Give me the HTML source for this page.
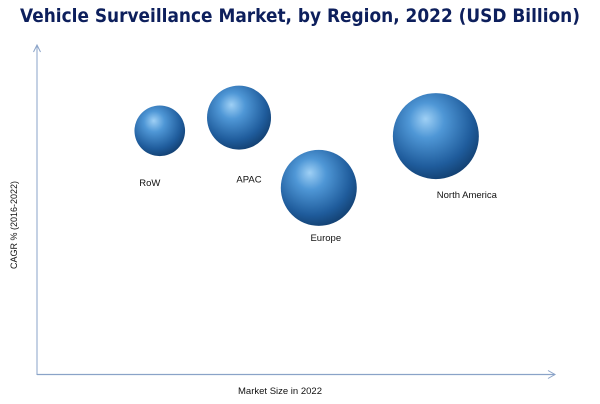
<!DOCTYPE html>
<html><head><meta charset="utf-8"><style>
html,body{margin:0;padding:0;background:#fff;}
svg{display:block;font-family:"Liberation Sans",Arial,sans-serif;}
</style></head><body>
<svg id="chart" width="600" height="404" viewBox="0 0 600 404">
<defs>
<radialGradient id="ball" cx="0.42" cy="0.36" r="0.68" fx="0.38" fy="0.3">
<stop offset="0" stop-color="#9fd0f5"/>
<stop offset="0.3" stop-color="#4f97d6"/>
<stop offset="0.75" stop-color="#1f5c9c"/>
<stop offset="1" stop-color="#123e6e"/>
</radialGradient>
</defs>
<text x="20" y="22" textLength="560" lengthAdjust="spacingAndGlyphs" font-size="19" font-weight="bold" fill="#0d1f5c" font-family="'DejaVu Sans',sans-serif">Vehicle Surveillance Market, by Region, 2022 (USD Billion)</text>
<g>
<line x1="37" y1="375" x2="37" y2="46" stroke="#8aa3c8" stroke-width="1"/>
<path d="M33.5 52 L37 45 L40.5 52" fill="none" stroke="#8aa3c8"/>
</g>
<g>
<line x1="37" y1="374.5" x2="555" y2="374.5" stroke="#8aa3c8" stroke-width="1.2"/>
<path d="M548 370.5 L555 374.5 L548 378.5" fill="none" stroke="#8aa3c8"/>
</g>
<text x="0" y="0" transform="translate(17,225) rotate(-90)" text-anchor="middle" font-size="9" fill="#111">CAGR % (2016-2022)</text>
<text x="280" y="394" text-anchor="middle" font-size="9.5" fill="#111">Market Size in 2022</text>
<g id="bubbles"></g>
</svg>
<script>
const regions = ["RoW", "APAC", "Europe", "North America"];
const marketSize = [23.7, 39.0, 54.4, 77.0];
const cagr = [74.0, 78.0, 56.7, 72.4];
const bubbleValue = [2.5, 4.0, 5.64, 7.22];
const labelDx = [-10, 10, 7, 31];
const labelDy = [55, 65, 53, 62];

const x0 = 37, x1 = 555, y0 = 375, y1 = 45;
function xScale(v){ return x0 + (x1 - x0) * v / 100; }
function yScale(v){ return y0 - (y0 - y1) * v / 100; }
function rScale(v){ return 16 * Math.sqrt(v); }

const ns = "http://www.w3.org/2000/svg";
const g = document.getElementById("bubbles");
regions.forEach((name, i) => {
  const cx = xScale(marketSize[i]), cy = yScale(cagr[i]), r = rScale(bubbleValue[i]);
  const c = document.createElementNS(ns, "circle");
  c.setAttribute("cx", cx); c.setAttribute("cy", cy); c.setAttribute("r", r);
  c.setAttribute("fill", "url(#ball)");
  
  
  g.appendChild(c);
  const t = document.createElementNS(ns, "text");
  t.setAttribute("x", cx + labelDx[i]); t.setAttribute("y", cy + labelDy[i]);
  t.setAttribute("text-anchor", "middle"); t.setAttribute("font-size", "9.5"); t.setAttribute("fill", "#111");
  t.textContent = name;
  
  
  g.appendChild(t);
});
</script>
</body></html>
